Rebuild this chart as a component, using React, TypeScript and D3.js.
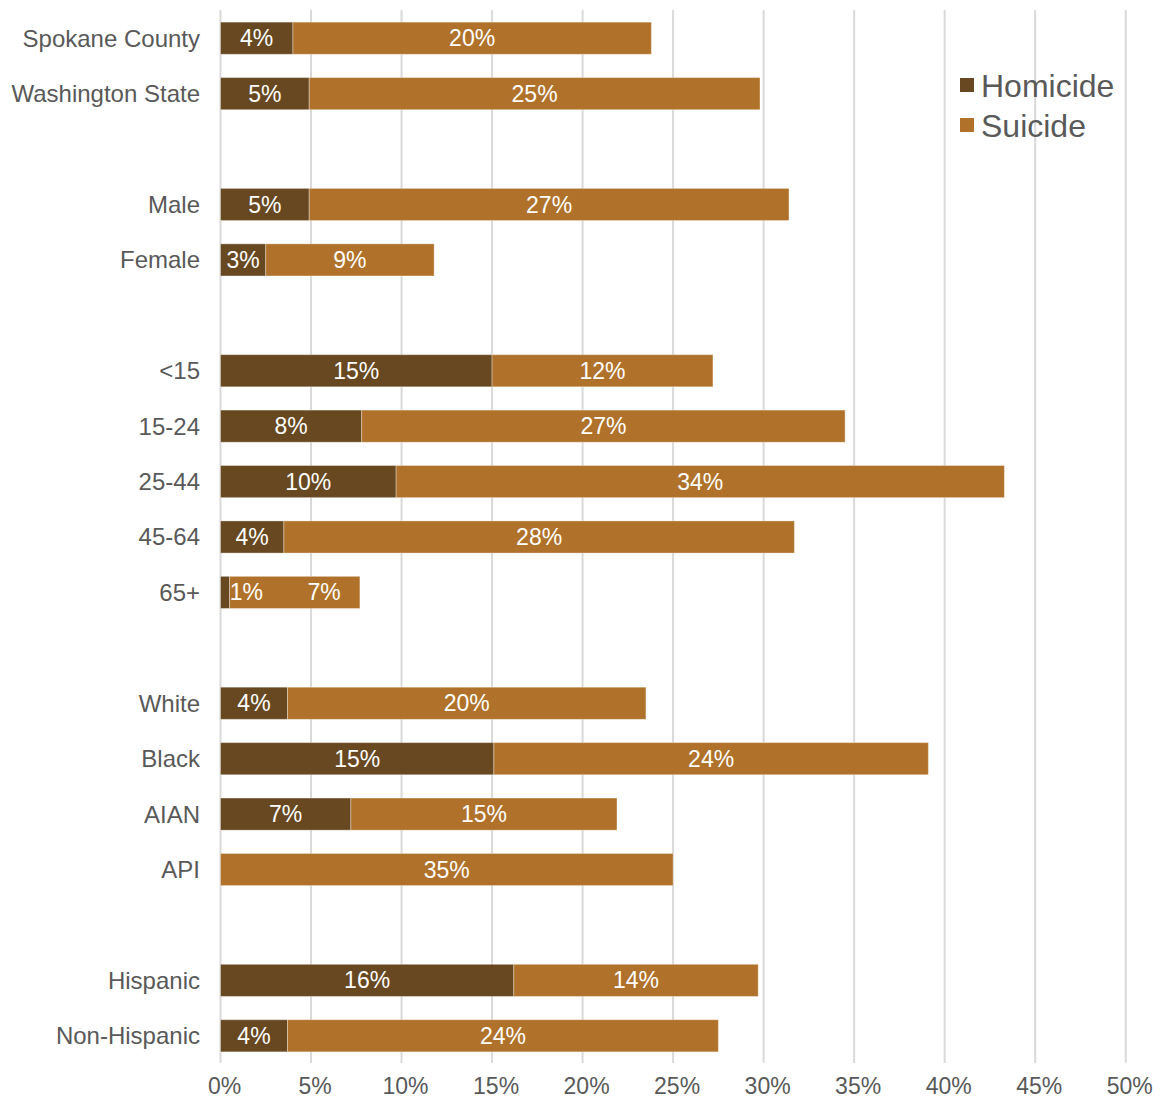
import React from "react";
import * as d3 from "d3";

const categories = [
  "Spokane County", "Washington State", "",
  "Male", "Female", "",
  "<15", "15-24", "25-44", "45-64", "65+", "",
  "White", "Black", "AIAN", "API", "",
  "Hispanic", "Non-Hispanic",
];
const homicide = [4.0, 4.9, null, 4.9, 2.5, null, 15.0, 7.8, 9.7, 3.5, 0.5, null, 3.7, 15.1, 7.2, 0, null, 16.2, 3.7];
const suicide = [19.8, 24.9, null, 26.5, 9.3, null, 12.2, 26.7, 33.6, 28.2, 7.2, null, 19.8, 24.0, 14.7, 25.0, null, 13.5, 23.8];
const homicideLabels = ["4%", "5%", "", "5%", "3%", "", "15%", "8%", "10%", "4%", "1%", "", "4%", "15%", "7%", "", "", "16%", "4%"];
const suicideLabels = ["20%", "25%", "", "27%", "9%", "", "12%", "27%", "34%", "28%", "7%", "", "20%", "24%", "15%", "35%", "", "14%", "24%"];
const ticks = [0, 5, 10, 15, 20, 25, 30, 35, 40, 45, 50];
const seriesNames = ["Homicide", "Suicide"];
const colors = ["#674820", "#B0722A"];

const W = 1162;
const H = 1099;
const FONT = "'Liberation Sans', Arial, Helvetica, sans-serif";
const TEXT = "#595959";

export default function App() {
  const x = d3.scaleLinear().domain([0, 50]).range([220.5, 1125.7]);
  const y = d3
    .scaleBand<number>()
    .domain(categories.map((_, i) => i))
    .range([10.5, 1063.5])
    .paddingInner(0.42)
    .paddingOuter(0.21);
  const bw = y.bandwidth();
  const charW = 23 * 0.6;

  return (
    <svg width={W} height={H} style={{ position: "absolute", left: 0, top: 0, fontFamily: FONT }}>
      <rect width={W} height={H} fill="#fff" />
      {ticks.map((t) => (
        <g key={t}>
          <line x1={x(t)} x2={x(t)} y1={10} y2={1063} stroke="#d9d9d9" strokeWidth={2} />
          <text x={x(t) + 4} y={1094} textAnchor="middle" fontSize={23} fill={TEXT}>
            {t}%
          </text>
        </g>
      ))}
      {categories.map((c, i) => {
        if (!c) return null;
        const h = homicide[i] ?? 0;
        const s = suicide[i] ?? 0;
        const y0 = y(i)!;
        const cy = y0 + bw / 2;
        const x0 = x(0);
        const x1 = x(h);
        const x2 = x(h + s);
        const hl = homicideLabels[i];
        const sl = suicideLabels[i];
        const hlW = hl.length * charW;
        let hx = (x0 + x1) / 2;
        let sx = (x1 + x2) / 2;
        if (hl && hlW > x1 - x0 + 4) {
          hx = x1 + 3 + hlW / 2;
          const right = hx + hlW / 2;
          sx = (right + x2) / 2 + 14;
        }
        return (
          <g key={i}>
            <text x={200} y={cy} dy="0.35em" textAnchor="end" fontSize={24} fill={TEXT}>
              {c}
            </text>
            {h > 0 && (
              <rect x={x0} y={y0} width={x1 - x0} height={bw} fill={colors[0]} stroke="#fff" strokeOpacity={0.35} strokeWidth={1} />
            )}
            <rect x={x1} y={y0} width={x2 - x1} height={bw} fill={colors[1]} stroke="#fff" strokeOpacity={0.35} strokeWidth={1} />
            {hl && (
              <text x={hx} y={cy} dy="0.35em" textAnchor="middle" fontSize={23} fill="#fff">
                {hl}
              </text>
            )}
            {sl && (
              <text x={sx} y={cy} dy="0.35em" textAnchor="middle" fontSize={23} fill="#fff">
                {sl}
              </text>
            )}
          </g>
        );
      })}
      {seriesNames.map((n, i) => (
        <g key={n}>
          <rect x={960} y={78 + i * 40} width={14} height={14} fill={colors[i]} />
          <text x={981} y={97 + i * 40} fontSize={32} fill={TEXT}>
            {n}
          </text>
        </g>
      ))}
    </svg>
  );
}
